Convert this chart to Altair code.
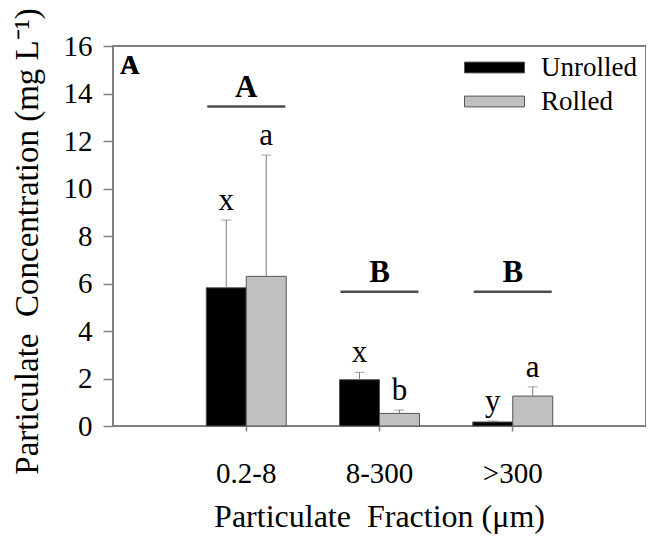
import altair as alt
import pandas as pd

categories = ["0.2-8", "8-300", ">300"]
series = ["Unrolled", "Rolled"]
unrolled_mean = [5.82, 1.95, 0.17]
unrolled_err = [8.67, 2.26, 0.21]
rolled_mean = [6.30, 0.53, 1.26]
rolled_err = [11.41, 0.67, 1.65]
unrolled_letters = ["x", "x", "y"]
rolled_letters = ["a", "b", "a"]
group_letters = ["A", "B", "B"]
group_level = [13.45, 5.65, 5.65]

rows = []
for i, c in enumerate(categories):
    rows.append({"cat": c, "series": "Unrolled", "mean": unrolled_mean[i],
                 "err": unrolled_err[i], "letter": unrolled_letters[i]})
    rows.append({"cat": c, "series": "Rolled", "mean": rolled_mean[i],
                 "err": rolled_err[i], "letter": rolled_letters[i]})
df = pd.DataFrame(rows)
gdf = pd.DataFrame({"cat": categories, "letter": group_letters, "level": group_level})

FONT = "Liberation Serif"
GREY = "#7f7f7f"

xenc = alt.X("cat:N", sort=categories,
             scale=alt.Scale(paddingInner=0.4, paddingOuter=0.7),
             axis=alt.Axis(title="Particulate\u00a0 Fraction (\u03bcm)", labelAngle=0,
                           labelFont=FONT, titleFont=FONT,
                           labelFontSize=29, titleFontSize=32, tickSize=5,
                           labelPadding=42, labelBaseline="middle",
                           titleY=90, titleBaseline="middle", titleX=266))
xoff = alt.XOffset("series:N", sort=series, scale=alt.Scale(paddingInner=0, paddingOuter=0))
yscale = alt.Scale(domain=[0, 16], nice=False)
yaxis = alt.Axis(title="Particulate\u00a0 Concentration (mg L\u207b\u00b9)",
                 values=list(range(0, 17, 2)), tickSize=10, labelPadding=11,
                 labelFont=FONT, titleFont=FONT,
                 labelFontSize=29, titleFontSize=33,
                 titleX=-86, titleY=195, titleAngle=-90,
                 titleAlign="center", titleBaseline="middle")
yenc = alt.Y("mean:Q", scale=yscale, axis=yaxis)

bars = alt.Chart(df).mark_bar(stroke="#555555", strokeWidth=1).encode(
    x=xenc, xOffset=xoff, y=yenc,
    color=alt.Color("series:N", sort=series,
                    scale=alt.Scale(domain=series, range=["#000000", "#c0c0c0"]),
                    legend=alt.Legend(orient="none", legendX=366, legendY=6, title=None,
                                      symbolType="M-2,-0.36H2V0.36H-2Z", symbolSize=900,
                                      symbolStrokeColor="#555555", symbolStrokeWidth=1,
                                      labelFont=FONT, labelFontSize=27, labelOffset=31,
                                      labelColor="#000000", rowPadding=5))
)

errs = alt.Chart(df).mark_rule(color=GREY, strokeWidth=1).encode(
    x=alt.X("cat:N", sort=categories), xOffset=xoff,
    y=alt.Y("mean:Q", scale=yscale, axis=yaxis), y2="err:Q")

caps = alt.Chart(df).mark_tick(color=GREY, size=10, thickness=1, orient="horizontal").encode(
    x=alt.X("cat:N", sort=categories), xOffset=xoff,
    y=alt.Y("err:Q", scale=yscale, axis=yaxis))

letters = alt.Chart(df).mark_text(font=FONT, fontSize=31, dy=-10, baseline="alphabetic",
                                  color="#000000").encode(
    x=alt.X("cat:N", sort=categories), xOffset=xoff,
    y=alt.Y("err:Q", scale=yscale, axis=yaxis), text="letter:N")

glines = alt.Chart(gdf).mark_tick(color="#000000", size=78, thickness=2.5,
                                  orient="horizontal").encode(
    x=alt.X("cat:N", sort=categories), y=alt.Y("level:Q", scale=yscale, axis=yaxis))

gtext = alt.Chart(gdf).mark_text(font=FONT, fontSize=31, fontWeight="bold", dy=-10,
                                 baseline="alphabetic", color="#000000").encode(
    x=alt.X("cat:N", sort=categories), y=alt.Y("level:Q", scale=yscale, axis=yaxis),
    text="letter:N")

panel = alt.Chart(gdf).mark_text(font=FONT, fontSize=27, fontWeight="bold",
                                 align="left", baseline="alphabetic", color="#000000").encode(
    x=alt.value(7), y=alt.value(28), text=alt.value("A"))

chart = alt.layer(bars, errs, caps, letters, glines, gtext, panel).properties(
    width=533, height=380,
    autosize=alt.AutoSizeParams(type="none"),
    padding={"left": 105, "top": 38, "right": 0, "bottom": 110},
).configure_view(stroke=GREY, strokeWidth=2).configure_axis(
    domain=False, grid=False, labelFont=FONT, titleFont=FONT,
    labelColor="#000000", titleColor="#000000", titleFontWeight="normal",
    tickColor=GREY, tickWidth=1.5)

chart.save("out.html", embed_options={"renderer": "svg", "actions": False})
